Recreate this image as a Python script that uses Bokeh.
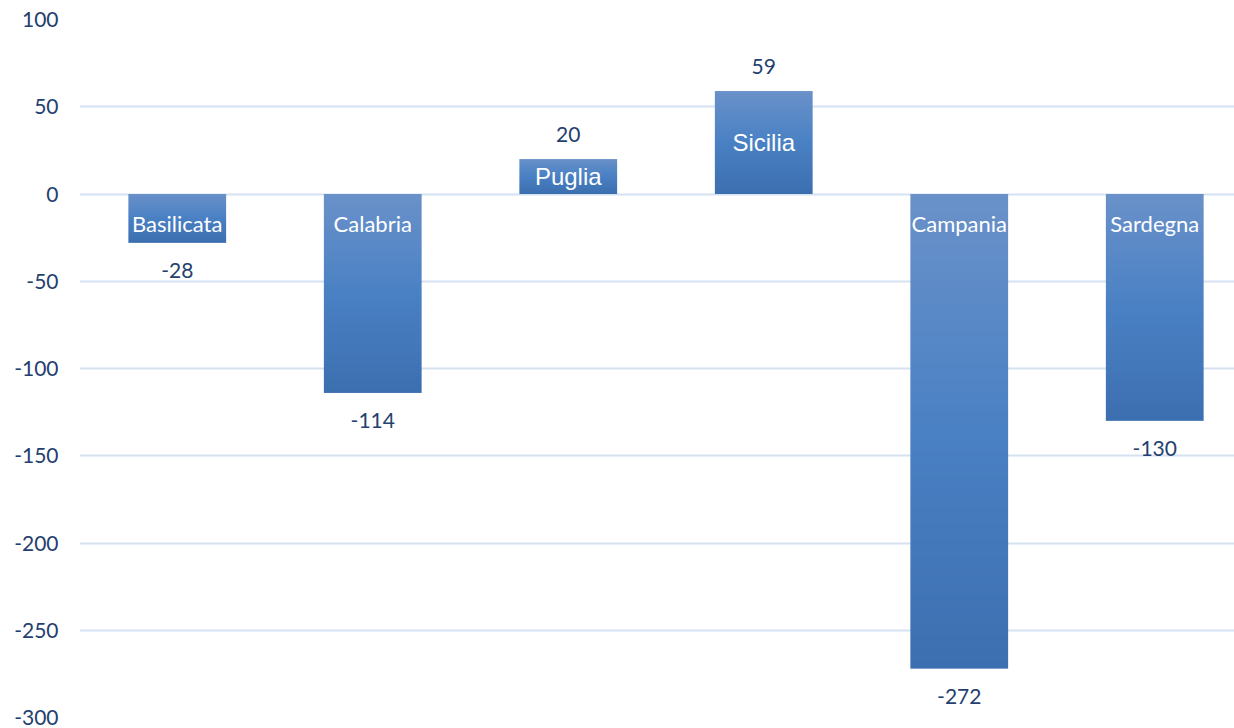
import numpy as np
from bokeh.plotting import figure
from bokeh.models import Range1d, FixedTicker
from bokeh.core.properties import value
from bokeh.embed import file_html
from bokeh.resources import INLINE

# ---- data ----
regions = ["Basilicata", "Calabria", "Puglia", "Sicilia", "Campania", "Sardegna"]
values = [-28, -114, 20, 59, -272, -130]
y_ticks = [-300, -250, -200, -150, -100, -50, 0, 50, 100]

# ---- styling ----
TEXT_COLOR = "#24406e"
GRID_COLOR = "#d6e1f1"
STOPS = [(0.0, (106, 145, 201)), (0.5, (74, 129, 196)), (1.0, (60, 111, 176))]
BAR_WIDTH = 0.5
CAT_PX = 195.5

W, H = 1234, 728
LEFT, TOP, BOTTOM = 79, 19, 11

p = figure(width=W, height=H, output_backend="svg", toolbar_location=None,
           min_border_left=LEFT, min_border_right=0, min_border_top=TOP,
           min_border_bottom=BOTTOM, x_axis_type=None)
p.outline_line_color = None
p.background_fill_color = "white"
p.border_fill_color = "white"

plot_w = W - LEFT
p.x_range = Range1d(0, plot_w / CAT_PX)
p.y_range = Range1d(-300, 100)

p.yaxis.ticker = FixedTicker(ticks=y_ticks)
p.yaxis.major_label_overrides = {t: str(t) for t in y_ticks}
p.yaxis.axis_line_color = None
p.yaxis.major_tick_line_color = None
p.yaxis.minor_tick_line_color = None
p.yaxis.major_tick_out = 0
p.yaxis.major_tick_in = 0
p.yaxis.major_label_standoff = 21
p.yaxis.major_label_text_font = "Lato"
p.yaxis.major_label_text_font_size = "21px"
p.yaxis.major_label_text_color = TEXT_COLOR
p.xgrid.grid_line_color = None
p.ygrid.grid_line_color = GRID_COLOR
p.ygrid.grid_line_width = 2
p.ygrid.ticker = FixedTicker(ticks=y_ticks)


def grad_rgba(t):
    for (t0, c0), (t1, c1) in zip(STOPS[:-1], STOPS[1:]):
        if t <= t1:
            f = (t - t0) / (t1 - t0) if t1 > t0 else 0
            c = [int(round(a + (b - a) * f)) for a, b in zip(c0, c1)]
            break
    else:
        c = list(STOPS[-1][1])
    return np.uint32(c[0] | (c[1] << 8) | (c[2] << 16) | (255 << 24))


# gradient bars as images (row 0 = bottom = darkest)
NROWS = 256
col = np.array([grad_rgba(1 - (k + 0.5) / NROWS) for k in range(NROWS)], dtype=np.uint32)
grad_img = col.reshape(NROWS, 1)
xs = [i + 0.5 for i in range(len(values))]
imgs, ix, iy, idw, idh = [], [], [], [], []
for x, v in zip(xs, values):
    imgs.append(grad_img)
    ix.append(x - BAR_WIDTH / 2)
    iy.append(min(v, 0))
    idw.append(BAR_WIDTH)
    idh.append(abs(v))
p.image_rgba(image=imgs, x=ix, y=iy, dw=idw, dh=idh)

# value labels
pos = [i for i, v in enumerate(values) if v >= 0]
neg = [i for i, v in enumerate(values) if v < 0]
p.text(x=[xs[i] for i in pos], y=[values[i] for i in pos],
       text=[str(values[i]) for i in pos], y_offset=-25,
       text_align="center", text_baseline="middle",
       text_font=value("Lato"), text_font_size="21px", text_color=TEXT_COLOR)
p.text(x=[xs[i] for i in neg], y=[values[i] for i in neg],
       text=[str(values[i]) for i in neg], y_offset=28,
       text_align="center", text_baseline="middle",
       text_font=value("Lato"), text_font_size="21px", text_color=TEXT_COLOR)

# region labels inside bars
p.text(x=[xs[i] for i in pos], y=[values[i] / 2 for i in pos],
       text=[regions[i] for i in pos], y_offset=0,
       text_align="center", text_baseline="middle",
       text_font=value("Liberation Sans"), text_font_size="24px", text_color="white")
p.text(x=[xs[i] for i in neg], y=[0 for i in neg],
       text=[regions[i] for i in neg], y_offset=29,
       text_align="center", text_baseline="middle",
       text_font=value("Lato"), text_font_size="22px", text_color="white")

open("out.html", "w").write(file_html(p, INLINE))
